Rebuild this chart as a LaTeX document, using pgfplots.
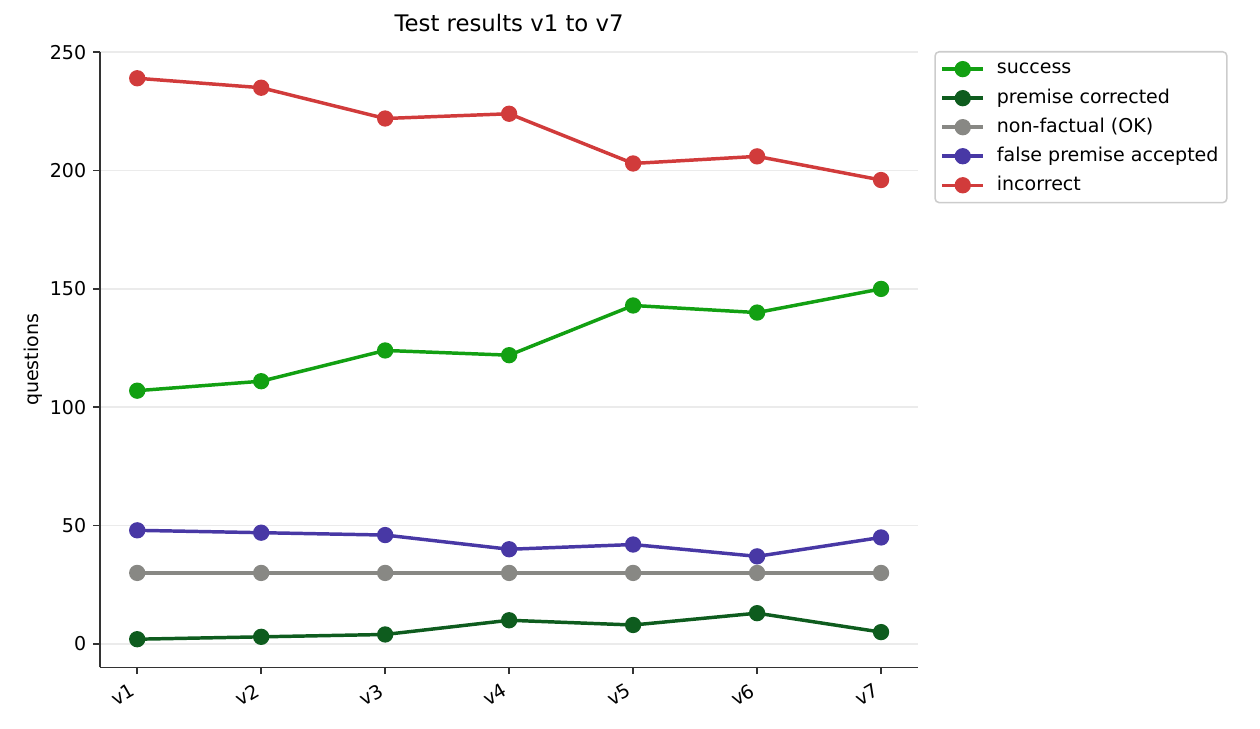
\documentclass[border=0pt]{standalone}
\usepackage{pgfplots}
\pgfplotsset{compat=1.18}
\usepackage{fontspec}
\setmainfont{DejaVu Sans}
\definecolor{cSucc}{RGB}{18,160,18}
\definecolor{cPrem}{RGB}{14,92,30}
\definecolor{cNon}{RGB}{136,136,132}
\definecolor{cFalse}{RGB}{72,56,165}
\definecolor{cInc}{RGB}{209,59,59}
\definecolor{cSpine}{RGB}{51,51,51}
\begin{document}
\begin{tikzpicture}
\path[use as bounding box] (-72pt,-43.9pt) rectangle (835pt,480.4pt);
\begin{axis}[
  at={(0pt,0pt)}, anchor=south west,
  scale only axis, width=589pt, height=442.8pt,
  xmin=-0.3, xmax=6.3, ymin=-9.9, ymax=250,
  axis x line*=bottom, axis y line*=left,
  axis line style={cSpine, line width=1.1pt, -},
  tick align=outside, tick style={cSpine, line width=1.1pt},
  major tick length=4.8pt,
  xtick={0,...,6}, xticklabels={v1,v2,v3,v4,v5,v6,v7},
  ytick={0,50,...,250},
  /pgf/number format/assume math mode=true,
  tick label style={font=\fontsize{13.7}{16}\selectfont, black},
  xticklabel style={xshift=-5.5pt, yshift=-6pt, rotate=30, anchor=north east, inner sep=0pt},
  yticklabel style={anchor=east, inner sep=0pt, xshift=-5pt},
  ymajorgrids, xmajorgrids=false,
  grid style={line width=1.1pt, color=black!8},
  title={Test results v1 to v7},
  title style={at={(0.5,1)}, anchor=base, yshift=8.6pt, font=\fontsize{16.4}{19}\selectfont},
  ylabel={questions},
  ylabel style={at={(axis description cs:-0.0815,0.5)}, anchor=center, font=\fontsize{13.7}{16}\selectfont},
  every axis plot/.append style={line width=2.5pt, mark=*, mark size=4.6pt, mark options={solid}},
  legend style={at={(1.0196,1.002)}, anchor=north west, draw=black!20, line width=1.1pt, rounded corners=3pt,
    font=\fontsize{13.7}{16}\selectfont, cells={anchor=west}, row sep=3.9pt,
    nodes={inner sep=2pt, text height=10pt, text depth=3pt},
    inner xsep=4pt, inner ysep=4pt},
  legend image code/.code={\draw[mark repeat=2,mark phase=2] plot coordinates {(0pt,0pt)(14.7pt,0pt)(29.4pt,0pt)};\path (36pt,0pt);},
]
\addplot[color=cSucc] coordinates {(0,107)(1,111)(2,124)(3,122)(4,143)(5,140)(6,150)};
\addlegendentry{success}
\addplot[color=cPrem] coordinates {(0,2)(1,3)(2,4)(3,10)(4,8)(5,13)(6,5)};
\addlegendentry{premise corrected}
\addplot[color=cNon] coordinates {(0,30)(1,30)(2,30)(3,30)(4,30)(5,30)(6,30)};
\addlegendentry{non-factual (OK)}
\addplot[color=cFalse] coordinates {(0,48)(1,47)(2,46)(3,40)(4,42)(5,37)(6,45)};
\addlegendentry{false premise accepted}
\addplot[color=cInc] coordinates {(0,239)(1,235)(2,222)(3,224)(4,203)(5,206)(6,196)};
\addlegendentry{incorrect}
\end{axis}
\end{tikzpicture}
\end{document}
